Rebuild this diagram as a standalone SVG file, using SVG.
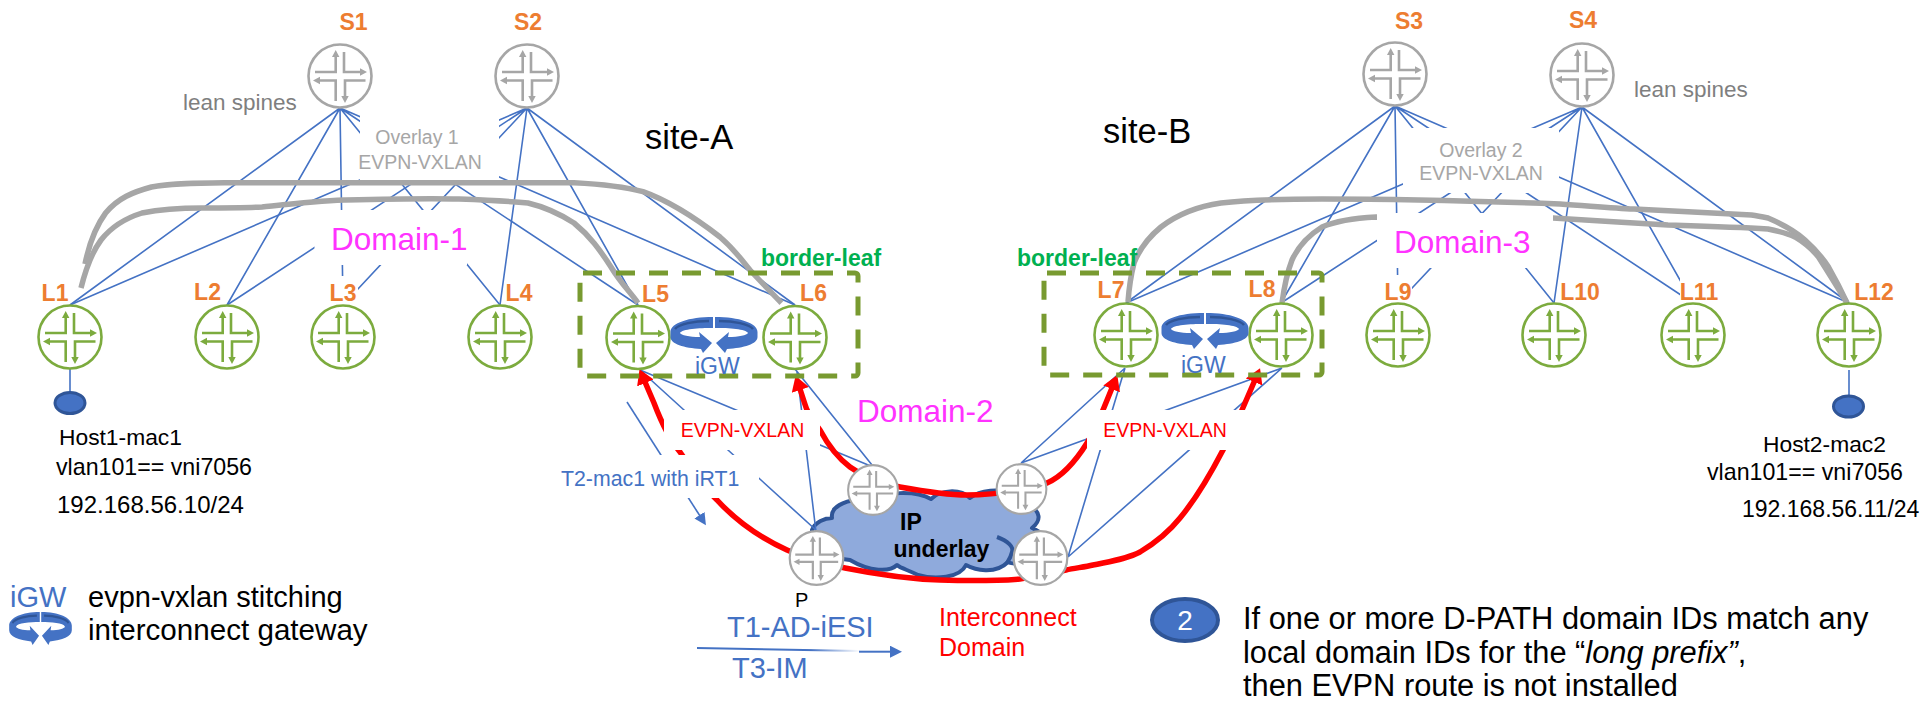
<svg xmlns="http://www.w3.org/2000/svg" width="1925" height="703" viewBox="0 0 1925 703">
<style>
text{font-family:"Liberation Sans",Arial,sans-serif}
.n{font-weight:bold;font-size:23px;fill:#ed7d31;text-anchor:middle}
.leaf{color:#7cab3e}
.spine{color:#a6a6a6}
.bl{stroke:#4472c4;stroke-width:1.6;fill:none}
.gr{stroke:#a6a6a6;stroke-width:5.5;fill:none}
.rd{stroke:#ff0000;stroke-width:5.5;fill:none;marker-start:url(#ra);marker-end:url(#ra)}
.mask{fill:#fff}
.ov{font-size:19.5px;fill:#a6a6a6;text-anchor:middle}
.dom{font-size:31.5px;fill:#ff33ff}
.ev{font-size:19.5px;fill:#ff0000;text-anchor:middle}
.blt{fill:#4472c4}
.bk{fill:#000}
.box{fill:none;stroke:#789a30;stroke-width:5;stroke-dasharray:19 14;stroke-linejoin:round}
.bord{font-weight:bold;font-size:23px;fill:#00b050}
</style>
<defs>
<marker id="ra" viewBox="0 0 15 18" refX="1" refY="9" markerWidth="15" markerHeight="18" markerUnits="userSpaceOnUse" orient="auto-start-reverse"><path d="M0,0L15,9L0,18Z" fill="#ff0000"/></marker>
<marker id="ba" viewBox="0 0 12 12" refX="1" refY="6" markerWidth="12" markerHeight="12" markerUnits="userSpaceOnUse" orient="auto"><path d="M0,0L12,6L0,12Z" fill="#4472c4"/></marker>
<linearGradient id="fade" gradientUnits="userSpaceOnUse" x1="697" y1="0" x2="860" y2="0"><stop offset="0" stop-color="#4472c4"/><stop offset=".7" stop-color="#4472c4"/><stop offset="1" stop-color="#4472c4" stop-opacity="0"/></linearGradient>
<g id="router">
<circle r="31.5" fill="#fff" stroke="currentColor" stroke-width="2.6"/>
<path d="M-25,-4H-4.3V-20M4,-24V-4H21M25.5,4.5H5V21M-4.3,25V4.5H-21" fill="none" stroke="currentColor" stroke-width="2.6"/>
<path d="M-4.3,-26L-8,-19H-.6ZM27,-4L20,-7.7V-.3ZM5,27L1.3,20H8.7ZM-27,4.5L-20,.8V8.2Z" fill="currentColor"/>
</g>
<g id="ringhalf">
<path d="M-1,-18C-25,-18-43.5,-12-43.5,-3V2C-43.5,9-30,13-13,14L-11,18L-2,8L-15,-3L-14,2C-25,2-33,0-34,-2C-32,-6-15,-7-1,-7Z" fill="#4472c4"/>
<path d="M-5,-14C-20,-14-35,-11-39,-6" fill="none" stroke="#2f5597" stroke-width="2.5"/>
</g>
<g id="ring"><use href="#ringhalf"/><use href="#ringhalf" transform="scale(-1,1)"/></g>
</defs>
<rect width="1925" height="703" fill="#fff"/>

<g id="cloud">
<path d="M812,530C815,522 825,518 832,518C830,505 850,498 870,500C885,492 915,490 931,499C940,490 960,488 970,498C980,490 1000,488 1012,494L1030,505C1040,512 1042,520 1032,528C1042,532 1048,538 1050,548L1030,565C1020,563 1012,565 1008,562C995,575 975,570 966,565C960,578 935,580 918,575C908,570 900,568 897,565C890,572 870,572 850,560L812,555Z" fill="#8faadc" stroke="#2f5597" stroke-width="4" stroke-linejoin="round"/>
<path d="M997,537C1008,541 1014,547 1012,552C1011,557 1009,560 1007,563" fill="none" stroke="#2f5597" stroke-width="4"/>
</g>

<g id="connectors">
<g class="bl">
<path d="M340,108L70,305M340,108L227,305M340,108L343,305M340,108L500,305M340,108L638,305M340,108L795,305"/>
<path d="M527,108L70,305M527,108L227,305M527,108L343,305M527,108L500,305M527,108L638,305M527,108L795,305"/>
<path d="M1395,106L1126,303M1395,106L1281,303M1395,106L1398,303M1395,106L1554,303M1395,106L1693,303M1395,106L1849,303"/>
<path d="M1582,107L1126,303M1582,107L1281,303M1582,107L1398,303M1582,107L1554,303M1582,107L1693,303M1582,107L1849,303"/>
<path d="M640,370L873,467M640,370L817,531M795,369L872,465M797,372L816,532"/>
<path d="M1021,463L1125,368M1021,463L1282,368M1068,557L1125,368M1068,557L1282,368"/>
<path d="M70,369V392M1849,370V395"/>
<path d="M627,402L700,516" marker-end="url(#ba)"/>
</g>
<path class="gr" d="M85,264C90,240 96,226 105.6,213C118,198 133,192 151.5,187C175,183 200,183 229.6,182.7L574,182.7C600,184 622,186 643,191.7C672,202 698,220 720,237C735,250 740,258 750,270C760,281 772,293 781.5,303"/>
<path class="gr" d="M81,288C86,268 92,252 101,240C112,226 126,218 142,213C162,209 182,208 202,208C225,208 245,208 262,207C290,204 315,201 344,200C385,199 425,198 459,199C485,200 508,201 528,203C545,207 560,214 574,223C590,236 600,250 611,267C620,282 630,292 638,303"/>
<path class="gr" d="M1128,302C1129,288 1131,275 1134,263C1140,248 1150,236 1161,227C1178,214 1200,206 1221,203C1255,199 1290,199 1322,199C1400,199 1480,201 1560,204C1590,206 1612,208 1634,209C1675,211 1715,213 1751.5,215C1758,216 1763,217 1768,218C1782,224 1795,231 1805,240C1815,249 1822,257 1828.5,267C1836,280 1842,292 1847,303"/>
<path class="gr" d="M1282,303C1284,288 1287,273 1292,260C1298,247 1309,235 1322,227C1338,220 1356,218 1376,217L1553,218C1590,220 1630,223 1668,225C1700,226 1735,227 1768,229C1778,231 1787,233 1795,237C1805,243 1812,249 1818.5,257C1828,272 1838,288 1847,303"/>
<path class="rd" d="M645,382L654,403C662,424 670,440 680,452C694,472 704,488 717,500C740,525 765,540 787,550C805,558 825,564 845,568C880,575 910,579 940,580C970,581 995,581 1020,579C1035,577 1050,573 1066,570C1075,568 1085,567 1093,565C1112,561 1127,559 1140,552C1155,543 1168,533 1180,518C1195,500 1210,475 1223,450C1230,436 1236,424 1242,410L1254.5,381"/>
<path class="rd" d="M800,389C803,398 805,405 807,410C811,418 815,424 820,430C828,445 838,458 850,467C865,478 882,484 900,487C922,491 945,495 967,495C985,495 1003,493 1021,490C1032,488 1040,486 1047,483C1063,476 1077,459 1087,443C1094,432 1099,420 1103,410L1112,388"/>
<path d="M697,648L860,651" stroke="url(#fade)" stroke-width="2" fill="none"/>
<path d="M859,651.7H891" stroke="#4472c4" stroke-width="2" fill="none" marker-end="url(#ba)"/>
</g>

<g id="overlay-1"><rect class="mask" x="360" y="115" width="139" height="65"/><text class="ov" x="417" y="144">Overlay 1</text><text class="ov" x="420" y="169">EVPN-VXLAN</text></g>
<g id="overlay-2"><rect class="mask" x="1403" y="128" width="156" height="65"/><text class="ov" x="1481" y="157">Overlay 2</text><text class="ov" x="1481" y="180">EVPN-VXLAN</text></g>
<g id="domain-1"><rect class="mask" x="314.5" y="210" width="152.5" height="55"/><text class="dom" x="331" y="250">Domain-1</text></g>
<g id="domain-3"><rect class="mask" x="1377" y="213" width="176" height="55"/><text class="dom" x="1394" y="253">Domain-3</text></g>
<g id="domain-2"><text class="dom" x="857" y="421.5">Domain-2</text></g>
<g id="evpn-1"><rect class="mask" x="664" y="410" width="156" height="40"/><text class="ev" x="742.5" y="437">EVPN-VXLAN</text></g>
<g id="t2-label"><rect class="mask" x="560" y="455" width="199" height="43"/><text x="561" y="486" font-size="21.3" class="blt">T2-mac1 with iRT1</text></g>
<g id="evpn-2"><rect class="mask" x="1087" y="410" width="158" height="40"/><text class="ev" x="1165" y="437">EVPN-VXLAN</text></g>

<g id="site-labels"><text x="645" y="149" font-size="34.5" class="bk">site-A</text><text x="1103" y="143" font-size="34.5" class="bk">site-B</text></g>
<g id="lean-1"><text x="183" y="110" font-size="22.5" fill="#7f7f7f">lean spines</text></g>
<g id="lean-2"><text x="1634" y="97" font-size="22.5" fill="#7f7f7f">lean spines</text></g>

<g id="border-leaf-a"><rect class="box" x="580" y="273" width="278" height="103" rx="3"/><text class="bord" x="761" y="266">border-leaf</text></g>
<g id="border-leaf-b"><rect class="box" x="1044" y="273" width="278" height="102" rx="3"/><text class="bord" x="1017" y="266">border-leaf</text></g>

<g id="S1"><text class="n" x="353.5" y="30">S1</text><use class="spine" href="#router" x="340" y="76"/></g>
<g id="S2"><text class="n" x="528" y="30">S2</text><use class="spine" href="#router" x="527" y="76"/></g>
<g id="S3"><text class="n" x="1409" y="29">S3</text><use class="spine" href="#router" x="1395" y="74"/></g>
<g id="S4"><text class="n" x="1583" y="28">S4</text><use class="spine" href="#router" x="1582" y="75"/></g>

<g id="L1"><text class="n" x="55" y="301">L1</text><use class="leaf" href="#router" x="70" y="337"/></g>
<g id="L2"><text class="n" x="207.5" y="300">L2</text><use class="leaf" href="#router" x="227" y="337"/></g>
<g id="L3"><rect class="mask" x="331" y="276" width="27" height="29"/><text class="n" x="343" y="301">L3</text><use class="leaf" href="#router" x="343" y="337"/></g>
<g id="L4"><text class="n" x="519" y="301">L4</text><use class="leaf" href="#router" x="500" y="337"/></g>
<g id="L5"><text class="n" x="655.5" y="302">L5</text><use class="leaf" href="#router" x="638" y="337.5"/></g>
<g id="L6"><text class="n" x="813.5" y="301">L6</text><use class="leaf" href="#router" x="795" y="337.5"/></g>
<g id="L7"><text class="n" x="1111" y="298">L7</text><use class="leaf" href="#router" x="1126" y="335"/></g>
<g id="L8"><text class="n" x="1262" y="297">L8</text><use class="leaf" href="#router" x="1281" y="335"/></g>
<g id="L9"><rect class="mask" x="1384" y="275" width="28" height="28"/><text class="n" x="1398" y="300">L9</text><use class="leaf" href="#router" x="1398" y="335"/></g>
<g id="L10"><text class="n" x="1580" y="300">L10</text><use class="leaf" href="#router" x="1554" y="335"/></g>
<g id="L11"><rect class="mask" x="1680" y="278" width="40" height="25"/><text class="n" x="1699" y="300">L11</text><use class="leaf" href="#router" x="1693" y="335"/></g>
<g id="L12"><text class="n" x="1874" y="300">L12</text><use class="leaf" href="#router" x="1849" y="335"/></g>

<g id="igw-a"><use href="#ring" x="714" y="335"/><text class="blt" x="695" y="374" font-size="23">iGW</text></g>
<g id="igw-b"><use href="#ring" x="1205" y="331"/><text class="blt" x="1181" y="373" font-size="23">iGW</text></g>

<g id="P1"><use class="spine" href="#router" transform="translate(873,490) scale(.79)"/></g>
<g id="P2"><use class="spine" href="#router" transform="translate(1021.5,489) scale(.79)"/></g>
<g id="P"><use class="spine" href="#router" transform="translate(816.5,558) scale(.85)"/><text x="795" y="607" font-size="20" class="bk">P</text></g>
<g id="P4"><use class="spine" href="#router" transform="translate(1040.5,558) scale(.85)"/></g>
<g id="underlay-label"><text x="900" y="530" font-size="23" font-weight="bold" class="bk">IP</text><text x="893.5" y="556.5" font-size="23" font-weight="bold" class="bk">underlay</text></g>

<g id="host-1"><ellipse cx="70" cy="403" rx="15" ry="10.5" fill="#4472c4" stroke="#2f5597" stroke-width="3"/>
<text x="59" y="445" font-size="22.8" class="bk">Host1-mac1</text><text x="56" y="475" font-size="23.2" class="bk">vlan101== vni7056</text><text x="57" y="513" font-size="24" class="bk">192.168.56.10/24</text></g>
<g id="host-2"><ellipse cx="1848.5" cy="406.5" rx="15" ry="10.5" fill="#4472c4" stroke="#2f5597" stroke-width="3"/>
<text x="1763" y="452" font-size="22.8" class="bk">Host2-mac2</text><text x="1707" y="480" font-size="23.2" class="bk">vlan101== vni7056</text><text x="1742" y="517" font-size="23" class="bk">192.168.56.11/24</text></g>

<g id="legend"><text class="blt" x="10" y="606.5" font-size="29">iGW</text><use href="#ring" transform="translate(40.5,628.5) scale(.72,.92)"/>
<text x="88" y="607" font-size="29" class="bk">evpn-vxlan stitching</text><text x="88" y="640" font-size="29.6" class="bk">interconnect gateway</text></g>

<g id="route-types"><text class="blt" x="727" y="637" font-size="29">T1-AD-iESI</text><text class="blt" x="732" y="678" font-size="29">T3-IM</text></g>
<g id="interconnect"><text x="939" y="626" font-size="25" fill="#ff0000">Interconnect</text><text x="939" y="656" font-size="25" fill="#ff0000">Domain</text></g>
<g id="note"><ellipse cx="1185" cy="620" rx="33" ry="21" fill="#4472c4" stroke="#2f5597" stroke-width="4"/><text x="1185" y="630" font-size="28" fill="#fff" text-anchor="middle">2</text>
<text x="1243" y="629" font-size="30.8" class="bk">If one or more D-PATH domain IDs match any</text>
<text x="1243" y="663" font-size="30.8" class="bk">local domain IDs for the “<tspan font-style="italic">long prefix”</tspan>,</text>
<text x="1243" y="696" font-size="30.8" class="bk">then EVPN route is not installed</text></g>
</svg>
